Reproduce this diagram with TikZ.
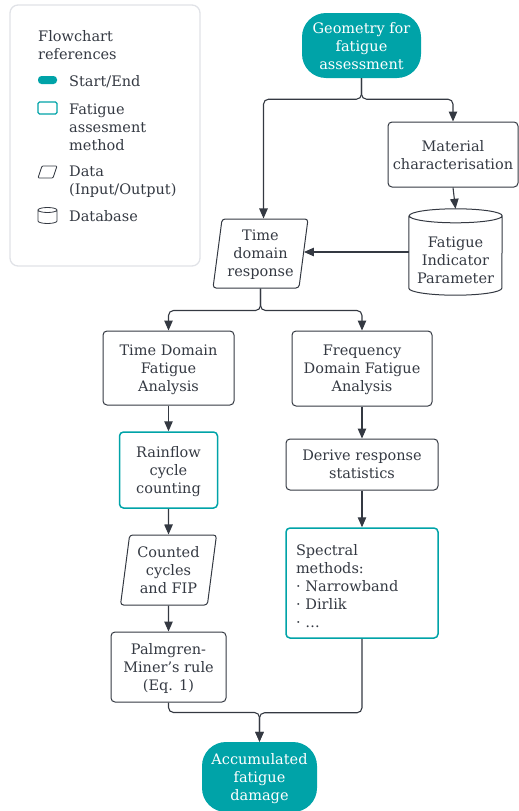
\documentclass[tikz,border=0pt]{standalone}
\usepackage{fontspec}
\setmainfont{DejaVu Serif}
\usetikzlibrary{arrows.meta,shapes.geometric,calc}
\definecolor{ink}{RGB}{52,57,66}
\definecolor{tealc}{RGB}{0,163,168}
\definecolor{legborder}{RGB}{224,226,231}
\newcommand{\specstrut}{\rule{0pt}{17pt}}
\begin{document}
\begin{tikzpicture}[x=1pt,y=-1pt,
  every node/.style={font=\fontsize{14.5}{18}\selectfont, text=ink, inner sep=0pt},
  txt/.style={align=center, text depth=-8pt},
  box/.style={txt, draw=ink, line width=1pt, rounded corners=4pt},
  tbox/.style={txt, draw=tealc, line width=1.5pt, rounded corners=4pt},
  specbox/.style={draw=tealc, line width=1.5pt, rounded corners=4pt, align=left,
    execute at begin node=\specstrut},
  term/.style={txt, fill=tealc, rounded corners=24pt, text=white},
  para/.style={txt, draw=ink, line width=1pt, rounded corners=3pt,
    trapezium, trapezium left angle=79, trapezium right angle=101, trapezium stretches body},
  ltxt/.style={align=left, anchor=west},
  arr/.style={draw=ink, line width=1.1pt, -{Triangle[length=10pt,width=8.5pt]}},
  rc/.style={rounded corners=5pt}
]
\useasboundingbox (0,0) rectangle (519,811);
% legend
\draw[legborder, line width=1.3pt, rounded corners=8pt] (10,5) rectangle (200,266);
\node[ltxt] (lt) at (38,45.5) {Flowchart\\references};
\fill[tealc, rounded corners=3.5pt] (38,76) rectangle (57,84);
\node[ltxt] (l1) at (69,81.5) {Start/End};
\draw[tealc, line width=1.3pt, rounded corners=1.5pt] (38,102) rectangle (57,114);
\node[ltxt] (l2) at (69,127.5) {Fatigue\\assesment\\method};
\draw[ink, line width=0.8pt, rounded corners=1pt] (38,178) -- (42,166) -- (57,166) -- (53,178) -- cycle;
\node[ltxt] (l3) at (69,181.5) {Data\\(Input/Output)};
\draw[ink, line width=0.8pt] (38,210) -- (38,221) arc[start angle=180, end angle=360, x radius=9.5pt, y radius=2.5pt] -- (57,210) arc[start angle=0, end angle=360, x radius=9.5pt, y radius=2.5pt];
\node[ltxt] (l4) at (69,216.5) {Database};
% main nodes
\node[term, minimum width=119pt, minimum height=65pt] (geo) at (361.5,45.5) {Geometry for\\fatigue\\assessment};
\node[box, minimum width=130pt, minimum height=65pt] (mat) at (453,154.5) {Material\\characterisation};
\node[minimum width=93pt, minimum height=86pt] (fip) at (455.5,252) {};
\draw[ink, line width=1pt] ([yshift=-7pt]fip.north west) -- ([yshift=7pt]fip.south west)
  arc[start angle=180, end angle=360, x radius=46.5pt, y radius=7pt] -- ([yshift=-7pt]fip.north east)
  arc[start angle=0, end angle=360, x radius=46.5pt, y radius=7pt];
\node[txt] (fipt) at (455.5,260.5) {Fatigue\\Indicator\\Parameter};
\node[para, minimum width=95pt, minimum height=69pt] (tdr) at (260.5,253.5) {Time\\domain\\response};
\node[box, minimum width=131pt, minimum height=74pt] (tdfa) at (168.5,368) {Time Domain\\Fatigue\\Analysis};
\node[box, minimum width=140pt, minimum height=75pt] (fdfa) at (362,368.5) {Frequency\\Domain Fatigue\\Analysis};
\node[tbox, minimum width=98pt, minimum height=76pt] (rain) at (168.5,470) {Rainflow\\cycle\\counting};
\node[box, minimum width=152pt, minimum height=51pt] (derive) at (362,464.5) {Derive response\\statistics};
\node[specbox, minimum width=152pt, minimum height=110pt, text width=132pt] (spec) at (362,583) {Spectral\\methods:\\· Narrowband\\· Dirlik\\· …};
\node[para, minimum width=96pt, minimum height=70pt] (count) at (168.5,570) {Counted\\cycles\\and FIP};
\node[box, minimum width=115pt, minimum height=70pt] (palm) at (168.5,667) {Palmgren-\\Miner's rule\\(Eq. 1)};
\node[term, minimum width=115pt, minimum height=70pt] (acc) at (259.5,777) {Accumulated\\fatigue\\damage};
% connectors
\draw[arr, rc] (geo.south) -- ++(0,21) -| ([xshift=3pt]tdr.north);
\draw[arr, rc] (geo.south) -- ++(0,21) -| (mat.north);
\draw[arr] (mat.south) -- (fip.north);
\draw[arr] (fip.west) -- (fip.west -| tdr.east);
\draw[arr, rc] (tdr.south) -- ++(0,22) -| (tdfa.north);
\draw[arr, rc] (tdr.south) -- ++(0,22) -| (fdfa.north);
\draw[arr] (tdfa.south) -- (rain.north);
\draw[arr] (fdfa.south) -- (derive.north);
\draw[arr] (derive.south) -- (spec.north);
\draw[arr] (rain.south) -- (count.north);
\draw[arr] (count.south) -- (palm.north);
\draw[arr, rc] (palm.south) -- ++(0,10) -| (acc.north);
\draw[arr, rc] (spec.south) -- ++(0,74) -| (acc.north);
\end{tikzpicture}
\end{document}
